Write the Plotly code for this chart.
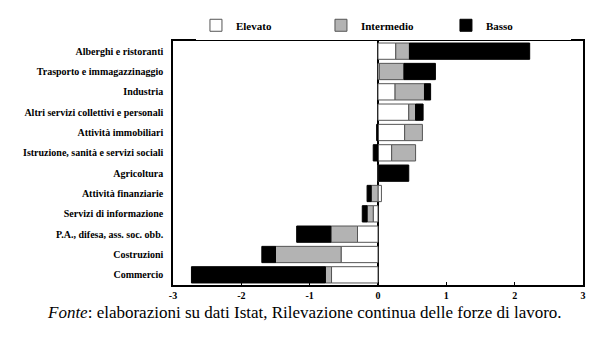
import plotly.graph_objects as go

categories = [
    "Alberghi e ristoranti",
    "Trasporto e immagazzinaggio",
    "Industria",
    "Altri servizi collettivi e personali",
    "Attività immobiliari",
    "Istruzione, sanità e servizi sociali",
    "Agricoltura",
    "Attività finanziarie",
    "Servizi di informazione",
    "P.A., difesa, ass. soc. obb.",
    "Costruzioni",
    "Commercio",
]
elevato =    [0.26, 0.02, 0.25, 0.45, 0.39, 0.20, 0.01, 0.05, -0.07, -0.30, -0.54, -0.68]
intermedio = [0.20, 0.36, 0.43, 0.10, 0.26, 0.35, 0.00, -0.10, -0.09, -0.39, -0.96, -0.09]
basso =      [1.76, 0.46, 0.09, 0.11, -0.02, -0.07, 0.44, -0.06, -0.07, -0.50, -0.20, -1.96]
x_ticks = [-3, -2, -1, 0, 1, 2, 3]

serif = "Liberation Serif"

fig = go.Figure()
for name, vals, col, lc in [
    ("Elevato", elevato, "#ffffff", "#555555"),
    ("Intermedio", intermedio, "#b3b3b3", "#555555"),
    ("Basso", basso, "#000000", "#000000"),
]:
    fig.add_trace(go.Bar(
        y=categories, x=vals, name=name, orientation="h",
        marker=dict(color=col, line=dict(color=lc, width=1)),
    ))

fig.update_layout(
    barmode="relative",
    bargap=0.2,
    width=600, height=338,
    margin=dict(l=173, r=17, t=41, b=53, autoexpand=False),
    paper_bgcolor="white", plot_bgcolor="white",
    font=dict(family=serif, color="black"),
    legend=dict(
        orientation="h", x=0.056, xanchor="left", y=1.005, yanchor="bottom",
        font=dict(family=serif, size=11, color="black", weight="bold"),
        entrywidth=80, entrywidthmode="pixels",
        itemwidth=30, traceorder="normal",
    ),
    showlegend=True,
)
fig.update_xaxes(
    range=[-3, 3], tickvals=x_ticks, ticktext=[str(v) for v in x_ticks],
    ticks="inside", ticklen=3, tickcolor="black",
    showline=True, linecolor="black", linewidth=1.5, mirror=True,
    showgrid=False, zeroline=True, zerolinecolor="black", zerolinewidth=1.5,
    tickfont=dict(family=serif, size=10, weight="bold"),
)
fig.update_yaxes(
    categoryorder="array", categoryarray=categories, autorange="reversed",
    showline=True, linecolor="black", linewidth=1.5, mirror=True,
    showgrid=False, ticks="", ticklabelstandoff=6,
    tickfont=dict(family=serif, size=10, weight="bold"),
)
fig.add_annotation(
    text="<i>Fonte</i>: elaborazioni su dati Istat, Rilevazione continua delle forze di lavoro.",
    xref="paper", yref="paper", x=0.32, y=-0.065, xanchor="center", yanchor="top",
    showarrow=False, font=dict(family=serif, size=17, color="black"),
)
fig.write_html("out.html")
